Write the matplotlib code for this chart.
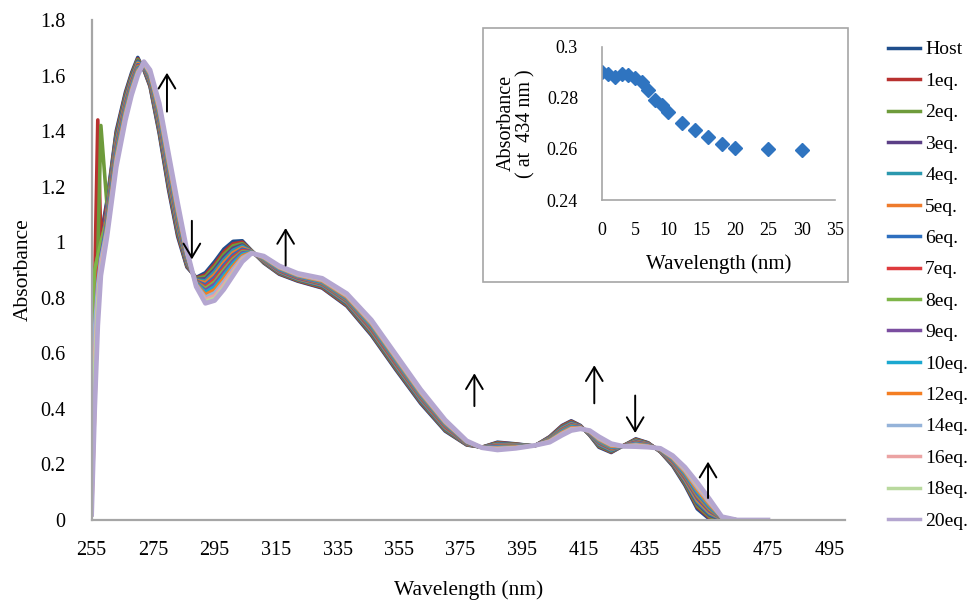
import matplotlib
matplotlib.use("Agg")
import matplotlib.pyplot as plt
from matplotlib.patches import Rectangle

plt.rcParams['font.family'] = ['Liberation Serif', 'DejaVu Serif']

# UV-vis titration spectra
wavelength = [255, 256, 257, 258, 260, 263, 266, 268, 270, 272, 274, 277, 280, 283,
              286, 289, 292, 295, 298, 301, 304, 307, 311, 316,
              322, 330, 338, 346, 354, 362, 370, 377, 382, 387,
              393, 399, 404, 408, 411, 414, 417, 420, 424, 428,
              432, 436, 440, 444, 448, 452, 456, 460, 465, 475]

host = [0.30, 0.70, 0.92, 1.02,
        1.15, 1.40, 1.54, 1.61, 1.665, 1.62, 1.56, 1.39, 1.19, 1.02,
        0.91, 0.873, 0.89, 0.93, 0.975, 1.003, 1.005, 0.97, 0.925, 0.885,
        0.86, 0.835, 0.77, 0.665, 0.54, 0.42, 0.32, 0.27, 0.262, 0.28,
        0.274, 0.266, 0.30, 0.34, 0.357, 0.34, 0.305, 0.262, 0.243, 0.268,
        0.292, 0.278, 0.245, 0.195, 0.125, 0.04, 0.003, 0.0, 0.0, 0.0]
eq1 = [0.55, 0.85, 1.44, 1.00,
       1.141, 1.391, 1.533, 1.604, 1.660, 1.622, 1.564, 1.398, 1.199, 1.028,
       0.914, 0.871, 0.882, 0.920, 0.965, 0.994, 1.000, 0.969, 0.927, 0.887,
       0.862, 0.837, 0.773, 0.669, 0.544, 0.424, 0.323, 0.271, 0.262, 0.278,
       0.273, 0.266, 0.299, 0.338, 0.355, 0.339, 0.306, 0.265, 0.245, 0.268,
       0.290, 0.277, 0.246, 0.198, 0.130, 0.047, 0.008, 0.001, 0.0, 0.0]
eq2 = [0.65, 0.90, 0.95, 1.42,
       1.133, 1.383, 1.527, 1.600, 1.657, 1.624, 1.568, 1.404, 1.207, 1.036,
       0.918, 0.869, 0.876, 0.912, 0.956, 0.987, 0.995, 0.969, 0.928, 0.889,
       0.864, 0.840, 0.776, 0.672, 0.547, 0.427, 0.325, 0.272, 0.262, 0.276,
       0.272, 0.266, 0.297, 0.335, 0.352, 0.338, 0.307, 0.267, 0.247, 0.268,
       0.288, 0.276, 0.247, 0.200, 0.133, 0.052, 0.012, 0.002, 0.0, 0.0]
eq3 = [0.20, 0.60, 0.85, 0.98,
       1.124, 1.374, 1.520, 1.594, 1.652, 1.626, 1.572, 1.412, 1.216, 1.044,
       0.922, 0.866, 0.868, 0.902, 0.946, 0.978, 0.990, 0.968, 0.930, 0.891,
       0.866, 0.842, 0.779, 0.676, 0.551, 0.430, 0.328, 0.273, 0.262, 0.274,
       0.271, 0.266, 0.296, 0.333, 0.350, 0.338, 0.308, 0.270, 0.249, 0.267,
       0.286, 0.275, 0.248, 0.202, 0.138, 0.059, 0.017, 0.002, 0.0, 0.0]
eq4 = [0.15, 0.55, 0.82, 0.96,
       1.116, 1.366, 1.514, 1.589, 1.648, 1.628, 1.576, 1.419, 1.224, 1.051,
       0.926, 0.864, 0.861, 0.894, 0.937, 0.971, 0.986, 0.967, 0.932, 0.893,
       0.867, 0.844, 0.782, 0.679, 0.554, 0.433, 0.330, 0.274, 0.261, 0.273,
       0.270, 0.267, 0.295, 0.331, 0.348, 0.337, 0.309, 0.272, 0.251, 0.267,
       0.285, 0.274, 0.248, 0.205, 0.142, 0.065, 0.022, 0.003, 0.0, 0.0]
eq5 = [0.02, 0.40, 0.75, 0.94,
       1.107, 1.357, 1.507, 1.584, 1.644, 1.630, 1.580, 1.426, 1.233, 1.060,
       0.930, 0.862, 0.854, 0.884, 0.927, 0.962, 0.980, 0.967, 0.933, 0.895,
       0.869, 0.847, 0.785, 0.683, 0.558, 0.437, 0.333, 0.275, 0.261, 0.271,
       0.269, 0.267, 0.293, 0.328, 0.345, 0.336, 0.311, 0.275, 0.254, 0.267,
       0.283, 0.273, 0.249, 0.207, 0.146, 0.071, 0.027, 0.004, 0.0, 0.0]
eq6 = [0.10, 0.50, 0.80, 0.96,
       1.098, 1.348, 1.500, 1.578, 1.639, 1.632, 1.584, 1.434, 1.242, 1.068,
       0.934, 0.860, 0.846, 0.874, 0.917, 0.954, 0.975, 0.966, 0.935, 0.897,
       0.871, 0.849, 0.788, 0.687, 0.562, 0.440, 0.336, 0.276, 0.261, 0.269,
       0.268, 0.267, 0.292, 0.326, 0.343, 0.335, 0.312, 0.277, 0.256, 0.267,
       0.281, 0.272, 0.250, 0.210, 0.151, 0.078, 0.032, 0.005, 0.0, 0.0]
eq7 = [0.35, 0.75, 0.90, 1.00,
       1.090, 1.340, 1.494, 1.573, 1.635, 1.634, 1.588, 1.441, 1.250, 1.075,
       0.938, 0.858, 0.839, 0.866, 0.908, 0.946, 0.970, 0.965, 0.937, 0.899,
       0.873, 0.851, 0.791, 0.690, 0.565, 0.443, 0.338, 0.277, 0.261, 0.267,
       0.267, 0.267, 0.291, 0.324, 0.341, 0.335, 0.313, 0.280, 0.258, 0.267,
       0.279, 0.271, 0.251, 0.212, 0.155, 0.084, 0.036, 0.006, 0.0, 0.0]
eq8 = [0.70, 0.90, 0.95, 1.00,
       1.082, 1.332, 1.488, 1.568, 1.631, 1.636, 1.591, 1.447, 1.258, 1.082,
       0.941, 0.856, 0.833, 0.857, 0.900, 0.939, 0.966, 0.965, 0.938, 0.901,
       0.875, 0.853, 0.793, 0.694, 0.569, 0.446, 0.341, 0.278, 0.261, 0.265,
       0.266, 0.267, 0.290, 0.322, 0.339, 0.334, 0.314, 0.282, 0.260, 0.266,
       0.277, 0.270, 0.252, 0.214, 0.159, 0.089, 0.040, 0.006, 0.0, 0.0]
eq9 = [0.25, 0.62, 0.84, 0.95,
       1.075, 1.325, 1.482, 1.564, 1.627, 1.637, 1.595, 1.454, 1.265, 1.090,
       0.945, 0.854, 0.826, 0.849, 0.891, 0.932, 0.962, 0.964, 0.940, 0.902,
       0.876, 0.855, 0.796, 0.697, 0.572, 0.449, 0.343, 0.279, 0.261, 0.264,
       0.265, 0.267, 0.288, 0.320, 0.337, 0.333, 0.315, 0.284, 0.262, 0.266,
       0.276, 0.269, 0.253, 0.216, 0.163, 0.095, 0.045, 0.007, 0.0, 0.0]
eq10 = [0.12, 0.50, 0.78, 0.93,
        1.067, 1.317, 1.476, 1.559, 1.623, 1.639, 1.598, 1.460, 1.273, 1.097,
        0.948, 0.852, 0.820, 0.840, 0.882, 0.924, 0.957, 0.964, 0.941, 0.904,
        0.878, 0.857, 0.799, 0.700, 0.575, 0.452, 0.346, 0.280, 0.261, 0.262,
        0.264, 0.267, 0.287, 0.318, 0.335, 0.332, 0.316, 0.286, 0.263, 0.266,
        0.274, 0.268, 0.253, 0.219, 0.167, 0.101, 0.049, 0.008, 0.0, 0.0]
eq12 = [0.05, 0.45, 0.74, 0.92,
        1.056, 1.306, 1.468, 1.552, 1.618, 1.642, 1.603, 1.469, 1.284, 1.106,
        0.953, 0.849, 0.811, 0.829, 0.871, 0.914, 0.951, 0.963, 0.943, 0.907,
        0.880, 0.860, 0.802, 0.705, 0.580, 0.456, 0.349, 0.281, 0.261, 0.260,
        0.263, 0.267, 0.286, 0.315, 0.332, 0.331, 0.317, 0.289, 0.266, 0.266,
        0.272, 0.267, 0.254, 0.222, 0.172, 0.108, 0.055, 0.009, 0.0, 0.0]
eq14 = [0.45, 0.70, 0.85, 0.94,
        1.046, 1.296, 1.460, 1.546, 1.613, 1.644, 1.608, 1.478, 1.294, 1.116,
        0.958, 0.847, 0.802, 0.818, 0.859, 0.905, 0.945, 0.962, 0.945, 0.909,
        0.882, 0.863, 0.806, 0.709, 0.584, 0.460, 0.352, 0.282, 0.260, 0.258,
        0.261, 0.268, 0.284, 0.312, 0.329, 0.330, 0.319, 0.292, 0.269, 0.266,
        0.270, 0.265, 0.255, 0.225, 0.177, 0.116, 0.061, 0.010, 0.0, 0.0]
eq16 = [0.30, 0.60, 0.80, 0.92,
        1.037, 1.287, 1.453, 1.540, 1.608, 1.646, 1.612, 1.486, 1.303, 1.124,
        0.962, 0.844, 0.794, 0.808, 0.849, 0.896, 0.940, 0.961, 0.947, 0.911,
        0.884, 0.865, 0.809, 0.713, 0.588, 0.464, 0.355, 0.283, 0.260, 0.256,
        0.260, 0.268, 0.283, 0.310, 0.327, 0.330, 0.320, 0.295, 0.271, 0.265,
        0.268, 0.264, 0.256, 0.227, 0.182, 0.123, 0.066, 0.010, 0.0, 0.0]
eq18 = [0.20, 0.55, 0.78, 0.90,
        1.028, 1.278, 1.446, 1.535, 1.604, 1.648, 1.616, 1.493, 1.312, 1.133,
        0.966, 0.842, 0.787, 0.798, 0.839, 0.887, 0.935, 0.961, 0.949, 0.913,
        0.886, 0.868, 0.812, 0.717, 0.592, 0.467, 0.358, 0.284, 0.260, 0.254,
        0.259, 0.268, 0.281, 0.307, 0.324, 0.329, 0.321, 0.298, 0.273, 0.265,
        0.266, 0.263, 0.257, 0.230, 0.186, 0.129, 0.071, 0.011, 0.0, 0.0]
eq20 = [0.02, 0.40, 0.70, 0.88,
        1.02, 1.27, 1.44, 1.53, 1.60, 1.65, 1.62, 1.50, 1.32, 1.14,
        0.97, 0.84, 0.78, 0.79, 0.83, 0.88, 0.93, 0.96, 0.95, 0.915,
        0.888, 0.87, 0.815, 0.72, 0.595, 0.47, 0.36, 0.285, 0.26, 0.252,
        0.258, 0.268, 0.28, 0.305, 0.322, 0.328, 0.322, 0.30, 0.275, 0.265,
        0.264, 0.262, 0.258, 0.232, 0.19, 0.135, 0.075, 0.012, 0.0, 0.0]

labels = ['Host', '1eq.', '2eq.', '3eq.', '4eq.', '5eq.', '6eq.', '7eq.', '8eq.',
          '9eq.', '10eq.', '12eq.', '14eq.', '16eq.', '18eq.', '20eq.']
series = [host, eq1, eq2, eq3, eq4, eq5, eq6, eq7, eq8, eq9, eq10,
          eq12, eq14, eq16, eq18, eq20]
colors = ['#1F4E8C', '#B8312F', '#6E9B3B', '#5B3F86', '#2B98AE', '#EE7B2C',
          '#2E6FBF', '#DE3A3D', '#7EB548', '#7B4EA0', '#1BA8D0', '#F47E22',
          '#95B3D9', '#EBA3A3', '#B9D99E', '#B4A6D0']

# inset: absorbance at 434 nm vs added equivalents
inset_x = [0, 1, 2, 3, 4, 5, 6, 7, 8, 9, 10, 12, 14, 16, 18, 20, 25, 30]
inset_y = [0.290, 0.2893, 0.288, 0.2893, 0.289, 0.2876, 0.2863, 0.2830, 0.2791,
           0.2771, 0.2746, 0.2703, 0.2674, 0.2648, 0.2620, 0.2605, 0.2600, 0.2597]

# arrows: (wavelength, tail, head)
arrows = [(279.5, 1.46, 1.62), (287.6, 1.087, 0.928), (318.1, 0.906, 1.061),
          (379.5, 0.40, 0.538), (418.5, 0.41, 0.567), (431.8, 0.458, 0.303),
          (455.5, 0.069, 0.22)]

grey = '#A6A6A6'

fig = plt.figure(figsize=(9.75, 6.01), dpi=100)
ax = fig.add_axes([0.094, 0.1348, 0.7725, 0.832])

for lab, vals, c in zip(labels, series, colors):
    lw = 3.4 if lab == '20eq.' else 2.6
    ax.plot(wavelength, vals, color=c, lw=lw, label=lab, solid_joinstyle='round')

for x, y0, y1 in arrows:
    ax.annotate('', xy=(x, y1), xytext=(x, y0),
                arrowprops=dict(arrowstyle='->,head_length=0.5,head_width=0.3',
                                color='black', lw=1.4, mutation_scale=20))

ax.set_xlim(255, 500)
ax.set_ylim(0, 1.8)
ax.set_xticks(list(range(255, 496, 20)))
yt = [0, 0.2, 0.4, 0.6, 0.8, 1.0, 1.2, 1.4, 1.6, 1.8]
ax.set_yticks(yt)
ax.set_yticklabels(['0', '0.2', '0.4', '0.6', '0.8', '1', '1.2', '1.4', '1.6', '1.8'])
for s in ['top', 'right']:
    ax.spines[s].set_visible(False)
for s in ['left', 'bottom']:
    ax.spines[s].set_color(grey)
    ax.spines[s].set_linewidth(1.6)
ax.tick_params(axis='x', length=0, pad=15, labelsize=14.5)
ax.tick_params(axis='y', length=0, pad=19, labelsize=14.5)
ax.set_xlabel('Wavelength (nm)', fontsize=15.5, labelpad=15)
ax.set_ylabel('Absorbance', fontsize=15.5, labelpad=5)

leg = fig.legend(loc='upper left', bbox_to_anchor=(0.911, 0.932),
                 bbox_transform=fig.transFigure, frameon=False, fontsize=14,
                 borderpad=0, borderaxespad=0, handlelength=1.65,
                 handletextpad=0.25, labelspacing=0.71)
for h in leg.get_lines():
    h.set_linewidth(2.5)

# inset frame and axes
frame = Rectangle((0.4954, 0.5308), 0.3744, 0.4226, transform=fig.transFigure,
                  facecolor='white', edgecolor=grey, lw=1.2, zorder=1)
fig.add_artist(frame)

ins = fig.add_axes([0.6171, 0.6672, 0.2393, 0.2551])
ins.set_zorder(2)
ins.patch.set_alpha(0)
ins.plot(inset_x, inset_y, ls='none', marker='D', ms=7.5, color='#2F74C0')
ins.set_xlim(0, 35)
ins.set_ylim(0.24, 0.30)
ins.set_xticks(list(range(0, 36, 5)))
ins.set_yticks([0.24, 0.26, 0.28, 0.30])
ins.set_yticklabels(['0.24', '0.26', '0.28', '0.3'])
for s in ['top', 'right']:
    ins.spines[s].set_visible(False)
for s in ['left', 'bottom']:
    ins.spines[s].set_color(grey)
    ins.spines[s].set_linewidth(1.2)
ins.tick_params(axis='x', length=0, pad=16, labelsize=13)
ins.tick_params(axis='y', length=0, pad=17, labelsize=13)
ins.set_xlabel('Wavelength (nm)', fontsize=15, labelpad=11)
ins.set_ylabel('Absorbance\n( at  434 nm )', fontsize=14.5, labelpad=8, linespacing=1.05)

fig.savefig('out.png', dpi=100, facecolor='white')
